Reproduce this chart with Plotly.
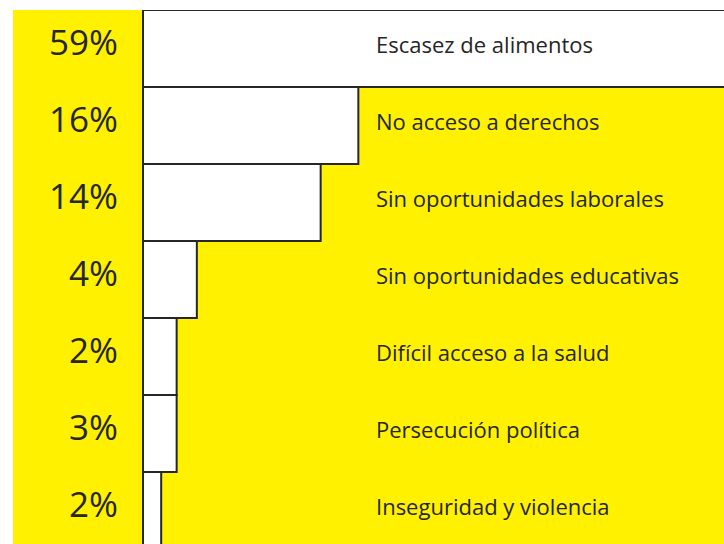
import plotly.graph_objects as go

# Data
categories = [
    "Escasez de alimentos",
    "No acceso a derechos",
    "Sin oportunidades laborales",
    "Sin oportunidades educativas",
    "Difícil acceso a la salud",
    "Persecución política",
    "Inseguridad y violencia",
]
pct_labels = ["59%", "16%", "14%", "4%", "2%", "3%", "2%"]
bar_lengths = [59, 16, 13.2, 4.0, 2.5, 2.5, 1.35]

YELLOW = "#FFF100"
INK = "#262626"

positions = list(range(len(categories)))

fig = go.Figure()
fig.add_trace(go.Bar(
    x=bar_lengths,
    y=positions,
    orientation="h",
    width=1,
    marker=dict(color="white", line=dict(color=INK, width=2)),
    hoverinfo="skip",
    showlegend=False,
))

annotations = []
for i, (cat, pct) in enumerate(zip(categories, pct_labels)):
    annotations.append(dict(
        x=17.2, y=i, xref="x", yref="y", text=cat, showarrow=False,
        xanchor="left", yanchor="middle", yshift=5,
        font=dict(family="Open Sans", size=22, color=INK),
    ))
    annotations.append(dict(
        x=-1.7, y=i, xref="x", yref="y", text=pct, showarrow=False,
        xanchor="right", yanchor="middle", yshift=7,
        font=dict(family="Open Sans", size=35, color=INK),
    ))

fig.update_layout(
    width=724, height=544,
    margin=dict(l=13, r=0, t=10, b=0),
    paper_bgcolor="white",
    plot_bgcolor=YELLOW,
    xaxis=dict(range=[-9.66, 43.17], showgrid=False, zeroline=False,
               showticklabels=False, showline=False, fixedrange=True),
    yaxis=dict(range=[6.435, -0.5], showgrid=False, zeroline=False,
               showticklabels=False, showline=False, fixedrange=True),
    annotations=annotations,
    shapes=[dict(type="line", xref="x", yref="paper", x0=0, x1=0, y0=0, y1=1,
                 line=dict(color=INK, width=2))],
)

fig.write_html(
    "out.html",
    config={"displayModeBar": False},
    post_script="document.body.style.margin='0';document.body.style.overflow='hidden';",
)
